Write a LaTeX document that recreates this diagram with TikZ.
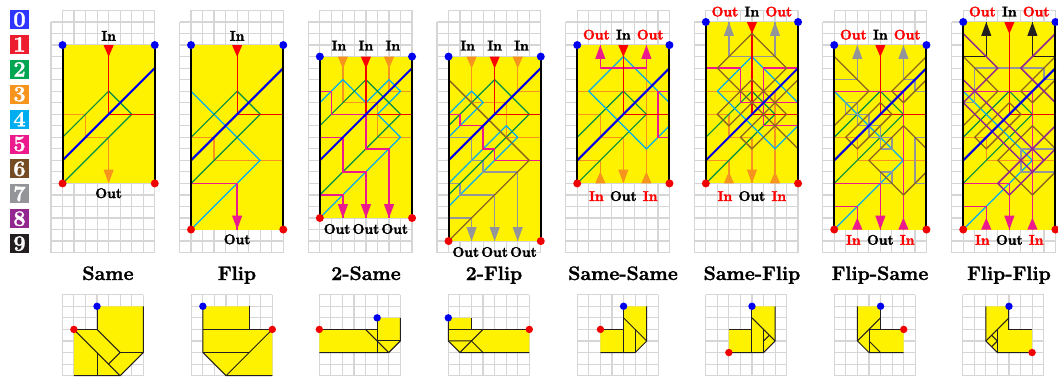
\documentclass[tikz,border=0pt]{standalone}
\definecolor{cZero}{HTML}{2E35FF}
\definecolor{cOne}{HTML}{ED1C2E}
\definecolor{cTwo}{HTML}{00A651}
\definecolor{cThree}{HTML}{F7941D}
\definecolor{cFour}{HTML}{00AEEF}
\definecolor{cFive}{HTML}{EC1A8C}
\definecolor{cSix}{HTML}{754C24}
\definecolor{cSeven}{HTML}{939598}
\definecolor{cEight}{HTML}{92278F}
\definecolor{cNine}{HTML}{231F20}
\definecolor{paper}{HTML}{FFF200}
\definecolor{gridc}{HTML}{D6D6D6}
\definecolor{dotb}{HTML}{0000F0}
\definecolor{dotr}{HTML}{F00000}
\newcommand\heavy[1]{\special{pdf:code q 2 Tr 0.3 w}#1\special{pdf:code Q}}
\tikzset{
  gridl/.style={draw=gridc,line width=1.2pt},
  bluel/.style={draw=blue!90!black,line width=2pt},
  redl/.style={draw=red!95!black,line width=1.3pt},
  greenl/.style={draw=cTwo!85!black,line width=1.15pt},
  orangel/.style={draw=cThree,line width=1.35pt},
  cyanl/.style={draw=cFour,line width=1.25pt},
  magl/.style={draw=cFive,line width=1.35pt},
  brownl/.style={draw=cSix!85!paper,line width=1.25pt},
  grayl/.style={draw=cSeven,line width=1.35pt},
  purpl/.style={draw=cEight,line width=1.45pt},
  blackl/.style={draw=cNine,line width=1.35pt},
  sidel/.style={draw=black,line width=2pt},
  fold/.style={draw=cNine,line width=1pt},
  lab/.style={font=\fontsize{14}{14}\selectfont\bfseries,inner sep=0pt},
  ttl/.style={font=\fontsize{19.5}{20}\selectfont\bfseries,inner sep=0pt,anchor=base},
  keyb/.style={minimum width=19pt,minimum height=19pt,inner sep=0pt,text=white,font=\fontsize{22}{22}\selectfont\bfseries},
}
\newcommand\panelgrid{%
  \foreach \i in {0,...,20}{\draw[gridl] (0,\i) -- (9,\i);}
  \draw[gridl] (1,-1) -- (9,-1);
  \draw[gridl] (0,0) -- (0,20);
  \foreach \i in {1,...,9}{\draw[gridl] (\i,-1) -- (\i,20);}
}
\newcommand\paper[2]{\fill[paper] (1,#1) rectangle (9,#2);}
\newcommand\sides[2]{\draw[sidel] (1,#1) -- (1,#2); \draw[sidel] (9,#1) -- (9,#2);}
\newcommand\corners[2]{%
  \fill[dotb] (1,#1) circle (4pt); \fill[dotb] (9,#1) circle (4pt);
  \fill[dotr] (1,#2) circle (4pt); \fill[dotr] (9,#2) circle (4pt);}
\newcommand\tipin[3]{\fill[#1] (#2-0.44,#3) -- (#2+0.44,#3) -- (#2,#3+1.02) -- cycle;}
\newcommand\tipdown[3]{\fill[#1] (#2-0.44,#3-1.2) -- (#2+0.44,#3-1.2) -- (#2,#3) -- cycle;}
\newcommand\tipup[3]{\fill[#1] (#2-0.44,#3+1.2) -- (#2+0.44,#3+1.2) -- (#2,#3) -- cycle;}
\newcommand\tipupin[3]{\fill[#1] (#2-0.44,#3) -- (#2+0.44,#3) -- (#2,#3-1.02) -- cycle;}
\newcommand\blueline{\draw[bluel] (1,12) -- (9,4);}
\newcommand\greenA{\draw[greenl] (1,10) -- (5,6) -- (7,8) -- (1,14);}
\newcommand\greenB{\draw[greenl] (1,9) -- (5,5) -- (8,8) -- (1,15);}
\newcommand\foldpts[2]{\fill[dotb] #1 circle (3.7pt); \fill[dotr] #2 circle (3.7pt);}
\newcommand\smallgrid{%
  \foreach \i in {0,...,7}{\draw[gridl] (0,\i) -- (7,\i); \draw[gridl] (\i,0) -- (\i,7);}
}
\begin{document}
\begin{tikzpicture}[x=1pt,y=-1pt]
\useasboundingbox (0,0) rectangle (1058,378);
\fill[white] (0,0) rectangle (1058,378);
% legend
\node[keyb,fill=cZero]  (k0) at (19.5,19.5)  {\heavy{0}};
\node[keyb,fill=cOne]   (k1) at (19.5,44.4)  {\heavy{1}};
\node[keyb,fill=cTwo]   (k2) at (19.5,69.3)  {\heavy{2}};
\node[keyb,fill=cThree] (k3) at (19.5,94.2)  {\heavy{3}};
\node[keyb,fill=cFour]  (k4) at (19.5,119.1) {\heavy{4}};
\node[keyb,fill=cFive]  (k5) at (19.5,144)   {\heavy{5}};
\node[keyb,fill=cSix]   (k6) at (19.5,168.9) {\heavy{6}};
\node[keyb,fill=cSeven] (k7) at (19.5,193.8) {\heavy{7}};
\node[keyb,fill=cEight] (k8) at (19.5,218.7) {\heavy{8}};
\node[keyb,fill=cNine]  (k9) at (19.5,243.6) {\heavy{9}};
% titles
\node[ttl] (t1) at (108,280) {\heavy{Same}};
\node[ttl] (t2) at (237,280) {\heavy{Flip}};
\node[ttl] (t3) at (366,280) {\heavy{2-Same}};
\node[ttl] (t4) at (494,280) {\heavy{2-Flip}};
\node[ttl] (t5) at (623,280) {\heavy{Same-Same}};
\node[ttl] (t6) at (752,280) {\heavy{Same-Flip}};
\node[ttl] (t7) at (880,280) {\heavy{Flip-Same}};
\node[ttl] (t8) at (1009,280) {\heavy{Flip-Flip}};

% ---------- Same
\begin{scope}[shift={(51,22)},x=11.53pt,y=-11.53pt]
\panelgrid \paper{2}{14}
\draw[orangel] (1,8) -- (3,8) -- (3,10) -- (5,10) -- (5,14);
\greenA
\draw[redl] (5,2) -- (5,8) -- (9,8);
\blueline
\tipin{red}{5}{2} \tipdown{cThree}{5}{14}
\sides{2}{14} \corners{2}{14}
\node[lab] (a1) at (5,1.2) {\heavy{In}};
\node[lab] (a2) at (5,14.85) {\heavy{Out}};
\end{scope}
% ---------- Flip
\begin{scope}[shift={(179.5,22)},x=11.53pt,y=-11.53pt]
\panelgrid \paper{2}{18}
\draw[orangel] (1,10) -- (3,10) -- (3,12) -- (9,12);
\draw[cyanl] (1,6) -- (7,12) -- (1,18);
\draw[magl] (1,14) -- (5,14) -- (5,18);
\greenA
\draw[redl] (5,2) -- (5,8) -- (9,8);
\blueline
\tipin{red}{5}{2} \tipdown{cFive}{5}{18}
\sides{2}{18} \corners{2}{18}
\node[lab] (b1) at (5,1.2) {\heavy{In}};
\node[lab] (b2) at (5,18.85) {\heavy{Out}};
\end{scope}
% ---------- 2-Same
\begin{scope}[shift={(308.3,22)},x=11.53pt,y=-11.53pt]
\panelgrid \paper{3}{17}
\draw[orangel] (3,3) -- (3,7) -- (6,7) -- (6,10) -- (9,10);
\draw[orangel] (7,3) -- (7,6) -- (9,6);
\draw[cyanl] (1,7) -- (3,5) -- (5,7) -- (7,5) -- (8,6) -- (6,8) -- (8,10) -- (1,17);
\greenB
\draw[redl] (5,3) -- (5,8) -- (9,8);
\draw[magl] (1,6) -- (2,6) -- (2,8) -- (5,8) -- (5,11) -- (7,11) -- (7,17);
\draw[magl] (1,10) -- (3,10) -- (3,13) -- (5,13) -- (5,17);
\draw[magl] (1,15) -- (3,15) -- (3,17);
\blueline
\tipin{cThree}{3}{3} \tipin{red}{5}{3} \tipin{cThree}{7}{3}
\tipdown{cFive}{3}{17} \tipdown{cFive}{5}{17} \tipdown{cFive}{7}{17}
\sides{3}{17} \corners{3}{17}
\node[lab] (c1) at (2.66,2.05) {\heavy{In}};
\node[lab] (c2) at (5,2.05) {\heavy{In}};
\node[lab] (c3) at (7.33,2.05) {\heavy{In}};
\node[lab] (c4) at (2.5,17.95) {\heavy{Out}};
\node[lab] (c5) at (5,17.95) {\heavy{Out}};
\node[lab] (c6) at (7.5,17.95) {\heavy{Out}};
\end{scope}
% ---------- 2-Flip
\begin{scope}[shift={(437,22)},x=11.53pt,y=-11.53pt]
\panelgrid \paper{3}{19}
\draw[orangel] (3,3) -- (3,7) -- (6,7) -- (6,10) -- (9,10);
\draw[orangel] (7,3) -- (7,6) -- (9,6);
\draw[cyanl] (1,8) -- (3,6) -- (4,7) -- (1,10);
\draw[cyanl] (1,14) -- (6,9) -- (7,10) -- (1,16);
\draw[grayl] (1,10) -- (3,10) -- (3,12) -- (4,12) -- (4,13) -- (7,13) -- (7,19);
\draw[grayl] (1,14) -- (2,14) -- (2,15) -- (5,15) -- (5,19);
\draw[grayl] (1,17) -- (3,17) -- (3,19);
\greenB
\draw[redl] (5,3) -- (5,8) -- (9,8);
\draw[magl] (1,8) -- (2,8) -- (2,9) -- (4,9) -- (4,11) -- (5,11) -- (5,12) -- (9,12);
\draw[brownl] (1,5) -- (8,12) -- (1,19);
\blueline
\tipin{cThree}{3}{3} \tipin{red}{5}{3} \tipin{cThree}{7}{3}
\tipdown{cSeven}{3}{19} \tipdown{cSeven}{5}{19} \tipdown{cSeven}{7}{19}
\sides{3}{19} \corners{3}{19}
\node[lab] (d1) at (2.66,2.05) {\heavy{In}};
\node[lab] (d2) at (5,2.05) {\heavy{In}};
\node[lab] (d3) at (7.33,2.05) {\heavy{In}};
\node[lab] (d4) at (2.5,19.95) {\heavy{Out}};
\node[lab] (d5) at (5,19.95) {\heavy{Out}};
\node[lab] (d6) at (7.5,19.95) {\heavy{Out}};
\end{scope}
% ---------- Same-Same
\begin{scope}[shift={(565.7,22)},x=11.53pt,y=-11.53pt]
\panelgrid \paper{2}{14}
\draw[orangel] (1,8) -- (3,8) -- (3,10) -- (5,10) -- (5,14);
\draw[orangel] (1,12) -- (3,12) -- (3,14);
\draw[orangel] (1,6) -- (9,6);
\draw[orangel] (7,14) -- (7,4);
\greenA
\draw[cyanl] (9,7) -- (5,3) -- (2,6) -- (7,11) -- (9,9);
\draw[magl] (3,2) -- (3,4) -- (7,4) -- (7,2);
\draw[magl] (9,6) -- (8,6) -- (8,10) -- (9,10);
\draw[redl] (5,2) -- (5,8) -- (9,8);
\blueline
\tipin{red}{5}{2} \tipup{cFive}{3}{2} \tipup{cFive}{7}{2}
\tipdown{cThree}{5}{14} \tipupin{cThree}{3}{14} \tipupin{cThree}{7}{14}
\sides{2}{14} \corners{2}{14}
\node[lab,text=red] (e1) at (2.66,1.1) {\heavy{Out}};
\node[lab] (e2) at (5,1.1) {\heavy{In}};
\node[lab,text=red] (e3) at (7.33,1.1) {\heavy{Out}};
\node[lab,text=red] (e4) at (2.66,15.1) {\heavy{In}};
\node[lab] (e5) at (5,15.1) {\heavy{Out}};
\node[lab,text=red] (e6) at (7.33,15.1) {\heavy{In}};
\end{scope}
% ---------- Same-Flip
\begin{scope}[shift={(694.3,22)},x=11.53pt,y=-11.53pt]
\panelgrid \paper{0}{14}
\draw[orangel] (1,8) -- (3,8) -- (3,10) -- (5,10) -- (5,14);
\draw[orangel] (1,12) -- (3,12) -- (3,14);
\draw[orangel] (1,6) -- (7,6) -- (7,14);
\draw[orangel,line width=2.1pt] (5,3) -- (5,8);
\greenA
\draw[cyanl] (9,7) -- (5,3) -- (2,6) -- (7,11) -- (9,9);
\draw[grayl] (3,0) -- (3,3) -- (7,3) -- (7,0);
\draw[magl] (1,4) -- (4,4) -- (4,7) -- (9,7);
\draw[magl] (9,4) -- (6,4) -- (6,9) -- (9,9);
\draw[redl] (5,0) -- (5,8) -- (9,8);
\draw[brownl] (9,11) -- (2,4) -- (5,1) -- (8,4) -- (3,9) -- (2,8) -- (5,5) -- (8,8) -- (5,11) -- (4,10) -- (9,5);
\blueline
\tipin{red}{5}{0} \tipup{cSeven}{3}{0} \tipup{cSeven}{7}{0}
\tipdown{cThree}{5}{14} \tipupin{cThree}{3}{14} \tipupin{cThree}{7}{14}
\sides{0}{14} \corners{0}{14}
\node[lab,text=red] (f1) at (2.66,-0.9) {\heavy{Out}};
\node[lab] (f2) at (5,-0.9) {\heavy{In}};
\node[lab,text=red] (f3) at (7.33,-0.9) {\heavy{Out}};
\node[lab,text=red] (f4) at (2.66,15.1) {\heavy{In}};
\node[lab] (f5) at (5,15.1) {\heavy{Out}};
\node[lab,text=red] (f6) at (7.33,15.1) {\heavy{In}};
\end{scope}
% ---------- Flip-Same
\begin{scope}[shift={(822.7,22)},x=11.53pt,y=-11.53pt]
\panelgrid \paper{2}{18}
\draw[orangel] (1,10) -- (3,10) -- (3,12) -- (9,12);
\greenA
\draw[cyanl] (1,6) -- (7,12) -- (1,18);
\draw[grayl] (1,5) -- (3,5) -- (3,2);
\draw[grayl] (7,2) -- (7,5) -- (8,5) -- (8,6) -- (9,6);
\draw[grayl] (2,7) rectangle (3,8);
\draw[grayl] (3,8) rectangle (4,9);
\draw[grayl] (4,9) rectangle (5,10);
\draw[grayl] (5,10) rectangle (6,11);
\draw[grayl] (5,13) rectangle (6,14);
\draw[grayl] (9,10) -- (8,10) -- (8,14) -- (9,14);
\draw[magl] (1,6) -- (7,6) -- (7,18);
\draw[magl] (1,14) -- (5,14) -- (5,18);
\draw[magl] (1,16) -- (3,16) -- (3,18);
\draw[redl] (5,2) -- (5,8) -- (9,8);
\draw[brownl] (1,3) -- (4,6) -- (1,9);
\draw[brownl] (9,3) -- (6,6) -- (7,7) -- (9,5);
\draw[brownl] (2,10) -- (5,7) -- (6,8) -- (3,11) -- cycle;
\draw[brownl] (9,11) -- (7,9) -- (4,12) -- (7,15) -- (9,13);
\blueline
\tipin{red}{5}{2} \tipup{cSeven}{3}{2} \tipup{cSeven}{7}{2}
\tipdown{cFive}{5}{18} \tipupin{cFive}{3}{18} \tipupin{cFive}{7}{18}
\sides{2}{18} \corners{2}{18}
\node[lab,text=red] (g1) at (2.66,1.1) {\heavy{Out}};
\node[lab] (g2) at (5,1.1) {\heavy{In}};
\node[lab,text=red] (g3) at (7.33,1.1) {\heavy{Out}};
\node[lab,text=red] (g4) at (2.66,18.9) {\heavy{In}};
\node[lab] (g5) at (5,18.9) {\heavy{Out}};
\node[lab,text=red] (g6) at (7.33,18.9) {\heavy{In}};
\end{scope}
% ---------- Flip-Flip
\begin{scope}[shift={(951.7,22)},x=11.53pt,y=-11.53pt]
\panelgrid \paper{0}{18}
\draw[orangel] (1,10) -- (3,10) -- (3,12) -- (9,12);
\greenA
\draw[cyanl] (1,6) -- (7,12) -- (1,18);
\draw[blackl] (1,3) -- (3,3) -- (3,0);
\draw[blackl] (7,0) -- (7,3) -- (9,3);
\draw[grayl] (1,7) -- (2,7) -- (2,4) -- (8,4) -- (8,5) -- (9,5);
\draw[grayl] (9,11) -- (6,11) -- (6,13) -- (9,13);
\draw[magl] (1,6) -- (7,6) -- (7,18);
\draw[magl] (1,14) -- (5,14) -- (5,18);
\draw[magl] (1,16) -- (3,16) -- (3,18);
\draw[redl] (5,0) -- (5,8) -- (9,8);
\draw[brownl] (1,3) -- (4,6) -- (1,9);
\draw[brownl] (9,3) -- (6,6) -- (7,7) -- (9,5);
\draw[brownl] (2,10) -- (5,7) -- (6,8) -- (3,11) -- cycle;
\draw[brownl] (9,11) -- (7,9) -- (4,12) -- (7,15) -- (9,13);
\draw[purpl] (1,1) -- (4,4) -- (1,7) -- (7,13) -- (9,11);
\draw[purpl] (9,1) -- (6,4) -- (9,7);
\draw[purpl] (1,5) -- (8,12) -- (5,15) -- (4,14) -- (9,9);
\blueline
\tipin{red}{5}{0} \tipup{cNine}{3}{0} \tipup{cNine}{7}{0}
\tipdown{cFive}{5}{18} \tipupin{cFive}{3}{18} \tipupin{cFive}{7}{18}
\sides{0}{18} \corners{0}{18}
\node[lab,text=red] (h1) at (2.66,-0.9) {\heavy{Out}};
\node[lab] (h2) at (5,-0.9) {\heavy{In}};
\node[lab,text=red] (h3) at (7.33,-0.9) {\heavy{Out}};
\node[lab,text=red] (h4) at (2.66,18.9) {\heavy{In}};
\node[lab] (h5) at (5,18.9) {\heavy{Out}};
\node[lab,text=red] (h6) at (7.33,18.9) {\heavy{In}};
\end{scope}

% ========== folded states
\begin{scope}[shift={(62.3,294.7)},x=11.57pt,y=-11.57pt]
\smallgrid
\fill[paper] (3,1) -- (7,1) -- (7,5) -- (5,7) -- (1,7) -- (1,3) -- (3,3) -- cycle;
\draw[fold] (3,1) -- (3,3) -- (1,3);
\draw[fold] (7,1) -- (7,5) -- (5,7) -- (1,7);
\draw[fold] (1,3) -- (5,7);
\draw[fold] (3,3) -- (5,5) -- (4,6);
\draw[fold] (5,5) -- (7,5);
\draw[fold] (3,5) -- (3,7);
\foldpts{(3,1)}{(1,3)}
\end{scope}
\begin{scope}[shift={(191.3,294.7)},x=11.57pt,y=-11.57pt]
\smallgrid
\fill[paper] (1,1) -- (5,1) -- (5,3) -- (7,3) -- (7,7) -- (3,7) -- (1,5) -- cycle;
\draw[fold] (1,1) -- (1,5) -- (3,7) -- (7,7);
\draw[fold] (5,1) -- (5,3);
\draw[fold] (1,3) -- (7,3);
\draw[fold] (1,5) -- (5,5);
\draw[fold] (7,3) -- (3,7);
\foldpts{(1,1)}{(7,3)}
\end{scope}
\begin{scope}[shift={(319.3,294.7)},x=11.57pt,y=-11.57pt]
\smallgrid
\fill[paper] (0,3) -- (5,3) -- (5,2) -- (7,2) -- (7,4) -- (6,5) -- (0,5) -- cycle;
\draw[fold] (0,3) -- (5,3);
\draw[fold] (7,2) -- (7,4) -- (6,5) -- (0,5);
\draw[fold] (5,2) -- (5,5);
\draw[fold] (4,3) -- (6,5);
\draw[fold] (5,4) -- (7,4);
\draw[fold] (6,5) -- (7,4);
\foldpts{(5,2)}{(0,3)}
\end{scope}
\begin{scope}[shift={(448.3,294.7)},x=11.57pt,y=-11.57pt]
\smallgrid
\fill[paper] (0,2) -- (2,2) -- (2,3) -- (7,3) -- (7,5) -- (1,5) -- (0,4) -- cycle;
\draw[fold] (0,2) -- (0,4) -- (1,5) -- (7,5);
\draw[fold] (2,2) -- (2,3);
\draw[fold] (0,3) -- (7,3);
\draw[fold] (0,4) -- (2,4) -- (3,5);
\draw[fold] (3,3) -- (1,5);
\foldpts{(0,2)}{(7,3)}
\end{scope}
\begin{scope}[shift={(577.3,294.7)},x=11.57pt,y=-11.57pt]
\smallgrid
\fill[paper] (4,1) -- (6,1) -- (6,4) -- (5,5) -- (2,5) -- (2,3) -- (4,3) -- cycle;
\draw[fold] (4,1) -- (4,5);
\draw[fold] (2,3) -- (4,3);
\draw[fold] (6,1) -- (6,4) -- (5,5) -- (2,5);
\draw[fold] (4,2) -- (6,4);
\draw[fold] (5,3) -- (5,5);
\foldpts{(4,1)}{(2,3)}
\end{scope}
\begin{scope}[shift={(705.7,294.7)},x=11.57pt,y=-11.57pt]
\smallgrid
\fill[paper] (4,1) -- (6,1) -- (6,4) -- (5,5) -- (2,5) -- (2,3) -- (4,3) -- cycle;
\draw[fold] (4,1) -- (4,5);
\draw[fold] (2,3) -- (4,3);
\draw[fold] (6,1) -- (6,4) -- (5,5) -- (2,5);
\draw[fold] (4,2) -- (6,4);
\draw[fold] (5,3) -- (5,5);
\draw[fold] (5,4) -- (5.5,3.5);
\foldpts{(4,1)}{(2,5)}
\end{scope}
\begin{scope}[shift={(834.3,294.7)},x=11.57pt,y=-11.57pt]
\smallgrid
\fill[paper] (2,1) -- (4,1) -- (4,3) -- (6,3) -- (6,5) -- (3,5) -- (2,4) -- cycle;
\draw[fold] (2,1) -- (2,4) -- (3,5) -- (6,5);
\draw[fold] (4,1) -- (4,3);
\draw[fold] (4,2) -- (2,4);
\draw[fold] (3,3) -- (6,3);
\draw[fold] (3,3) -- (3,5);
\draw[fold] (3,4) -- (4,5);
\foldpts{(4,1)}{(6,3)}
\end{scope}
\begin{scope}[shift={(962.7,294.7)},x=11.57pt,y=-11.57pt]
\smallgrid
\fill[paper] (2,1) -- (4,1) -- (4,3) -- (6,3) -- (6,5) -- (3,5) -- (2,4) -- cycle;
\draw[fold] (2,1) -- (2,4) -- (3,5) -- (6,5);
\draw[fold] (4,1) -- (4,3) -- (6,3);
\draw[fold] (4,2) -- (2,4);
\draw[fold] (3,3) -- (3,5);
\draw[fold] (2.5,3.5) -- (3,4) -- (2.5,4.5);
\foldpts{(4,1)}{(6,5)}
\end{scope}
\end{tikzpicture}
\end{document}
